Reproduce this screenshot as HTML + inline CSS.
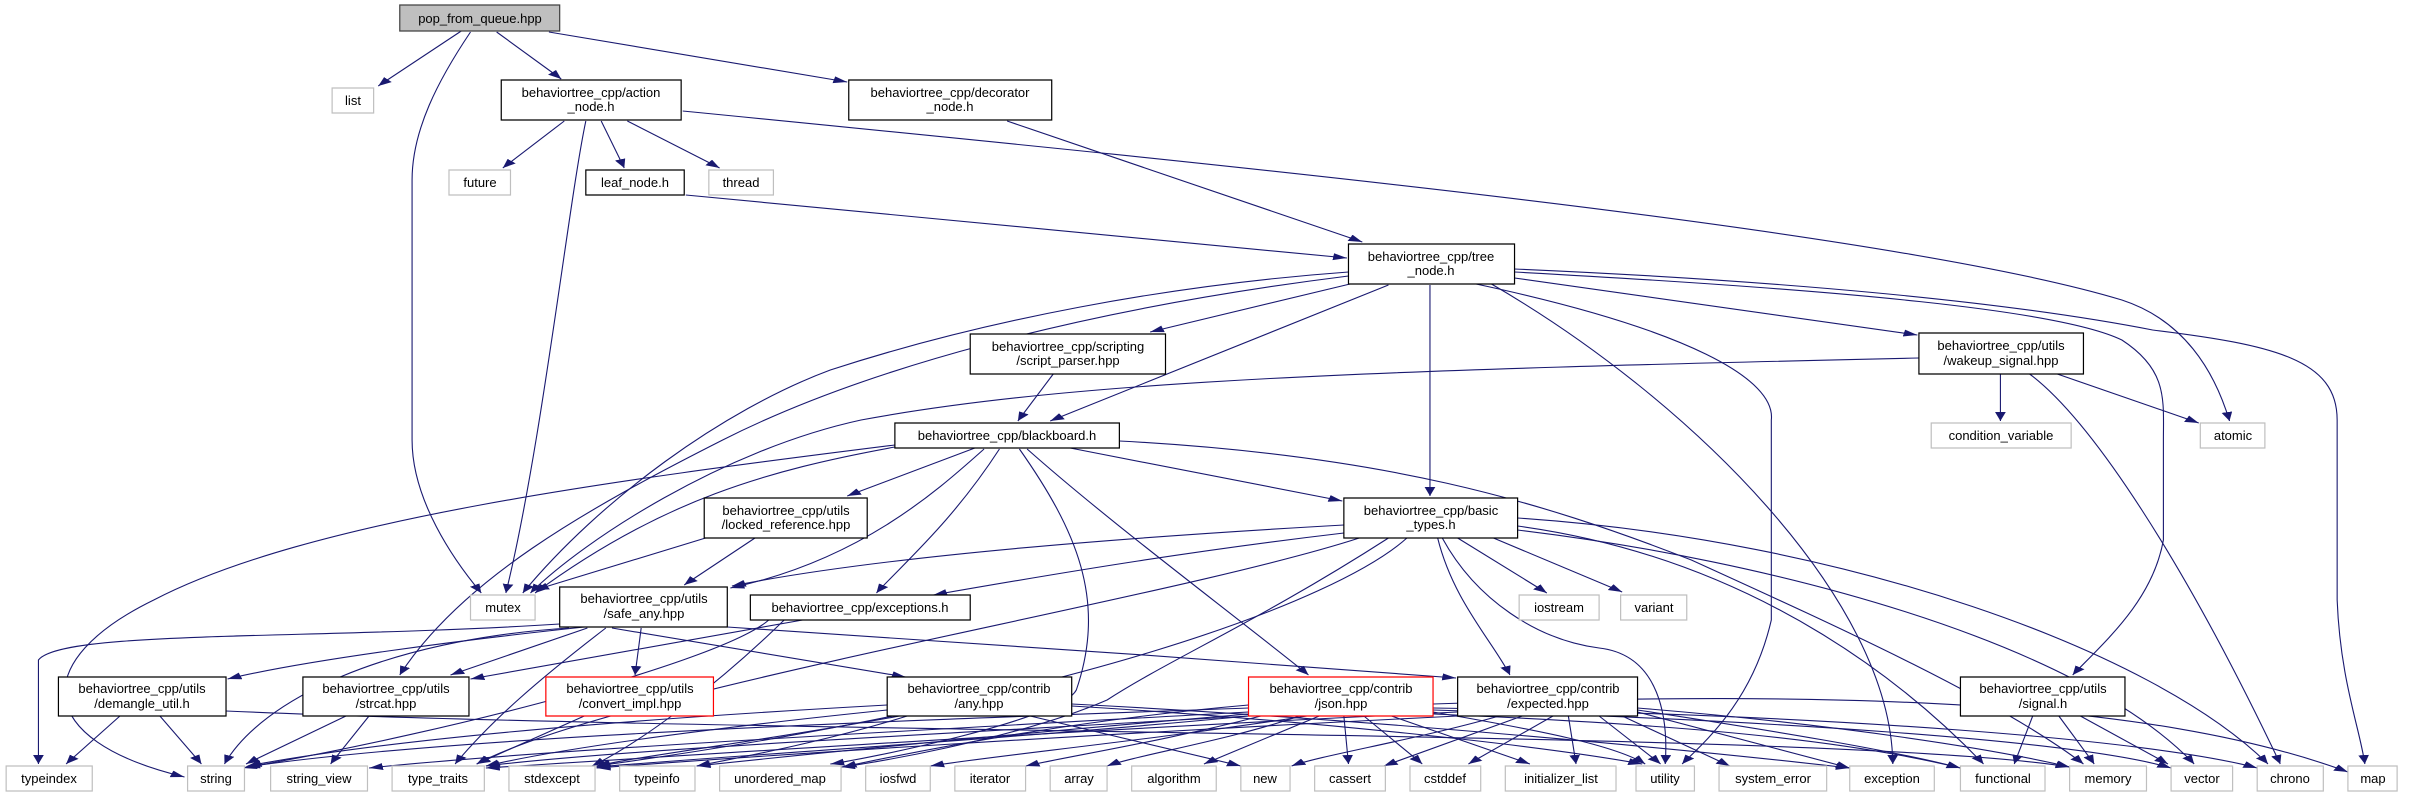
<!DOCTYPE html>
<html><head><meta charset="utf-8"><style>
html,body{margin:0;padding:0;background:#fff;}
svg{display:block;}
text{font-family:"Liberation Sans",sans-serif;font-size:13px;fill:#000;text-anchor:middle;}
</style></head><body>
<svg width="2411" height="797" viewBox="0 0 2411 797" xmlns="http://www.w3.org/2000/svg">
<defs>
<marker id="a" markerUnits="userSpaceOnUse" markerWidth="10" markerHeight="8" refX="9" refY="3.5" orient="auto">
<path d="M0,0 L9,3.5 L0,7 z" fill="#191970"/>
</marker>
</defs>
<g transform="scale(1.5376,1)">
<g fill="none" stroke="#191970" stroke-width="1.1" vector-effect="non-scaling-stroke" marker-end="url(#a)">
<path vector-effect="non-scaling-stroke" d="M300,31 L246,86"/>
<path vector-effect="non-scaling-stroke" d="M306,32 C285,80 268,130 268,180 L268,440 C268,500 295,560 313,593"/>
<path vector-effect="non-scaling-stroke" d="M323,32 L365,79"/>
<path vector-effect="non-scaling-stroke" d="M357,32 L551,82"/>
<path vector-effect="non-scaling-stroke" d="M367,121 L327,168"/>
<path vector-effect="non-scaling-stroke" d="M391,121 L406,168"/>
<path vector-effect="non-scaling-stroke" d="M408,121 L468,168"/>
<path vector-effect="non-scaling-stroke" d="M381,121 C370,200 352,450 329,593"/>
<path vector-effect="non-scaling-stroke" d="M444,111 C800,165 1230,230 1380,300 C1420,320 1440,370 1450,421"/>
<path vector-effect="non-scaling-stroke" d="M655,121 L886,242"/>
<path vector-effect="non-scaling-stroke" d="M446,195 L876,258"/>
<path vector-effect="non-scaling-stroke" d="M878,284 L748,332"/>
<path vector-effect="non-scaling-stroke" d="M903,285 L683,421"/>
<path vector-effect="non-scaling-stroke" d="M685,374 L662,421"/>
<path vector-effect="non-scaling-stroke" d="M930,285 L930,496"/>
<path vector-effect="non-scaling-stroke" d="M877,272 C760,285 640,320 540,370 C470,410 390,500 340,593"/>
<path vector-effect="non-scaling-stroke" d="M877,276 C700,310 560,370 470,440 C380,510 300,580 260,675"/>
<path vector-effect="non-scaling-stroke" d="M985,278 L1247,335"/>
<path vector-effect="non-scaling-stroke" d="M985,272 C1200,290 1340,310 1380,340 C1410,370 1407,400 1407,440 L1407,540 C1400,600 1370,640 1348,675"/>
<path vector-effect="non-scaling-stroke" d="M985,269 C1150,280 1300,300 1400,330 C1480,345 1520,360 1520,420 L1520,600 C1522,680 1535,730 1538,764"/>
<path vector-effect="non-scaling-stroke" d="M970,284 C1100,400 1230,600 1231,764"/>
<path vector-effect="non-scaling-stroke" d="M960,284 C1100,330 1155,380 1152,420 L1152,620 C1140,700 1110,740 1094,764"/>
<path vector-effect="non-scaling-stroke" d="M1301,374 L1301,421"/>
<path vector-effect="non-scaling-stroke" d="M1338,374 L1430,423"/>
<path vector-effect="non-scaling-stroke" d="M1248,358 C900,370 700,380 560,420 C470,450 380,540 345,593"/>
<path vector-effect="non-scaling-stroke" d="M1320,374 C1360,420 1420,560 1483,764"/>
<path vector-effect="non-scaling-stroke" d="M634,448 L551,496"/>
<path vector-effect="non-scaling-stroke" d="M696,448 L873,501"/>
<path vector-effect="non-scaling-stroke" d="M582,447 C500,470 430,500 348,593"/>
<path vector-effect="non-scaling-stroke" d="M582,445 C400,480 200,520 100,600 C20,660 20,740 120,777"/>
<path vector-effect="non-scaling-stroke" d="M640,449 C610,490 560,560 475,588"/>
<path vector-effect="non-scaling-stroke" d="M650,449 C620,520 590,560 570,593"/>
<path vector-effect="non-scaling-stroke" d="M663,449 C700,530 720,600 700,690 C690,720 560,760 540,764"/>
<path vector-effect="non-scaling-stroke" d="M668,449 C720,520 790,600 851,675"/>
<path vector-effect="non-scaling-stroke" d="M728,441 C900,455 1000,500 1100,560 C1200,630 1300,700 1355,764"/>
<path vector-effect="non-scaling-stroke" d="M874,525 C700,540 560,560 476,586"/>
<path vector-effect="non-scaling-stroke" d="M874,533 C780,550 700,570 607,595"/>
<path vector-effect="non-scaling-stroke" d="M884,538 C760,600 400,690 310,764"/>
<path vector-effect="non-scaling-stroke" d="M948,538 L1006,593"/>
<path vector-effect="non-scaling-stroke" d="M962,532 L1055,592"/>
<path vector-effect="non-scaling-stroke" d="M935,538 C945,600 970,640 982,675"/>
<path vector-effect="non-scaling-stroke" d="M987,518 C1200,540 1400,650 1475,764"/>
<path vector-effect="non-scaling-stroke" d="M987,530 C1150,560 1350,640 1427,764"/>
<path vector-effect="non-scaling-stroke" d="M938,538 C960,600 1000,640 1040,648 C1080,655 1085,720 1083,764"/>
<path vector-effect="non-scaling-stroke" d="M903,538 C820,620 760,660 720,700 C660,740 560,765 547,767"/>
<path vector-effect="non-scaling-stroke" d="M915,538 C870,600 700,700 388,766"/>
<path vector-effect="non-scaling-stroke" d="M987,526 C1150,560 1250,700 1290,764"/>
<path vector-effect="non-scaling-stroke" d="M380,627 C300,640 200,660 148,679"/>
<path vector-effect="non-scaling-stroke" d="M382,628 L293,675"/>
<path vector-effect="non-scaling-stroke" d="M417,628 L413,675"/>
<path vector-effect="non-scaling-stroke" d="M364,624 C200,640 40,630 25,660 L25,764"/>
<path vector-effect="non-scaling-stroke" d="M370,628 C250,640 170,700 146,764"/>
<path vector-effect="non-scaling-stroke" d="M394,628 C350,680 320,720 296,764"/>
<path vector-effect="non-scaling-stroke" d="M398,628 L589,677"/>
<path vector-effect="non-scaling-stroke" d="M473,627 C600,640 800,660 947,678"/>
<path vector-effect="non-scaling-stroke" d="M522,620 L306,679"/>
<path vector-effect="non-scaling-stroke" d="M500,620 C470,660 300,730 158,768"/>
<path vector-effect="non-scaling-stroke" d="M510,620 C470,680 420,740 385,766"/>
<path vector-effect="non-scaling-stroke" d="M78,716 L43,764"/>
<path vector-effect="non-scaling-stroke" d="M104,716 L131,764"/>
<path vector-effect="non-scaling-stroke" d="M147,711 C500,735 1200,730 1346,767"/>
<path vector-effect="non-scaling-stroke" d="M225,716 L160,764"/>
<path vector-effect="non-scaling-stroke" d="M240,716 L215,764"/>
<path vector-effect="non-scaling-stroke" d="M380,716 L310,764"/>
<path vector-effect="non-scaling-stroke" d="M670,716 L807,766"/>
<path vector-effect="non-scaling-stroke" d="M577,705 C400,720 250,740 161,766"/>
<path vector-effect="non-scaling-stroke" d="M577,710 C450,730 360,750 316,766"/>
<path vector-effect="non-scaling-stroke" d="M590,716 C540,740 490,755 453,766"/>
<path vector-effect="non-scaling-stroke" d="M585,716 C500,740 420,755 388,766"/>
<path vector-effect="non-scaling-stroke" d="M697,706 C850,720 1000,745 1068,764"/>
<path vector-effect="non-scaling-stroke" d="M697,704 C900,720 1100,750 1203,768"/>
<path vector-effect="non-scaling-stroke" d="M932,704 C1200,690 1400,700 1527,772"/>
<path vector-effect="non-scaling-stroke" d="M850,716 C750,740 650,755 605,766"/>
<path vector-effect="non-scaling-stroke" d="M820,716 C760,740 700,755 667,766"/>
<path vector-effect="non-scaling-stroke" d="M845,716 C800,740 740,755 720,766"/>
<path vector-effect="non-scaling-stroke" d="M858,716 L783,764"/>
<path vector-effect="non-scaling-stroke" d="M874,716 L877,764"/>
<path vector-effect="non-scaling-stroke" d="M887,716 L925,764"/>
<path vector-effect="non-scaling-stroke" d="M905,716 L995,764"/>
<path vector-effect="non-scaling-stroke" d="M932,712 C1000,730 1050,745 1070,764"/>
<path vector-effect="non-scaling-stroke" d="M932,714 C1100,725 1200,740 1275,768"/>
<path vector-effect="non-scaling-stroke" d="M932,710 C1150,720 1350,740 1412,768"/>
<path vector-effect="non-scaling-stroke" d="M932,708 C1200,715 1400,740 1468,768"/>
<path vector-effect="non-scaling-stroke" d="M812,708 C600,720 300,735 160,767"/>
<path vector-effect="non-scaling-stroke" d="M812,712 C600,730 350,750 240,768"/>
<path vector-effect="non-scaling-stroke" d="M812,716 C600,735 400,750 316,766"/>
<path vector-effect="non-scaling-stroke" d="M812,716 C650,740 480,755 388,767"/>
<path vector-effect="non-scaling-stroke" d="M812,705 C700,720 600,750 548,767"/>
<path vector-effect="non-scaling-stroke" d="M812,714 C650,735 520,755 453,766"/>
<path vector-effect="non-scaling-stroke" d="M975,716 C920,740 860,755 840,766"/>
<path vector-effect="non-scaling-stroke" d="M990,716 L900,766"/>
<path vector-effect="non-scaling-stroke" d="M1010,716 L955,764"/>
<path vector-effect="non-scaling-stroke" d="M1020,716 L1025,764"/>
<path vector-effect="non-scaling-stroke" d="M1040,716 L1080,764"/>
<path vector-effect="non-scaling-stroke" d="M1055,716 L1125,766"/>
<path vector-effect="non-scaling-stroke" d="M1065,712 L1203,768"/>
<path vector-effect="non-scaling-stroke" d="M1065,710 C1150,730 1230,750 1275,768"/>
<path vector-effect="non-scaling-stroke" d="M1065,708 C1200,725 1300,750 1346,767"/>
<path vector-effect="non-scaling-stroke" d="M948,712 C700,730 450,755 316,768"/>
<path vector-effect="non-scaling-stroke" d="M948,716 C700,735 500,755 388,768"/>
<path vector-effect="non-scaling-stroke" d="M1322,716 L1310,764"/>
<path vector-effect="non-scaling-stroke" d="M1339,716 L1362,764"/>
<path vector-effect="non-scaling-stroke" d="M1353,716 L1410,764"/>
<path vector-effect="non-scaling-stroke" d="M461,537 L348,590"/>
<path vector-effect="non-scaling-stroke" d="M491,538 L445,585"/>
</g>
<g fill="#fff" stroke-width="1.2">
<rect x="260" y="5" width="104" height="26" fill="#bfbfbf" stroke="#404040" vector-effect="non-scaling-stroke"/>
<g stroke="#000">
<rect x="326" y="80" width="117" height="40" vector-effect="non-scaling-stroke"/>
<rect x="552" y="80" width="132" height="40" vector-effect="non-scaling-stroke"/>
<rect x="381" y="170" width="64" height="25" vector-effect="non-scaling-stroke"/>
<rect x="877" y="244" width="108" height="40" vector-effect="non-scaling-stroke"/>
<rect x="631" y="334" width="127" height="40" vector-effect="non-scaling-stroke"/>
<rect x="1248" y="333" width="107" height="41" vector-effect="non-scaling-stroke"/>
<rect x="582" y="423" width="146" height="25" vector-effect="non-scaling-stroke"/>
<rect x="874" y="498" width="113" height="40" vector-effect="non-scaling-stroke"/>
<rect x="458" y="498" width="106" height="40" vector-effect="non-scaling-stroke"/>
<rect x="488" y="595" width="143" height="25" vector-effect="non-scaling-stroke"/>
<rect x="364" y="587" width="109" height="40" vector-effect="non-scaling-stroke"/>
<rect x="38" y="677" width="109" height="39" vector-effect="non-scaling-stroke"/>
<rect x="197" y="677" width="108" height="39" vector-effect="non-scaling-stroke"/>
<rect x="577" y="677" width="120" height="39" vector-effect="non-scaling-stroke"/>
<rect x="948" y="677" width="117" height="39" vector-effect="non-scaling-stroke"/>
<rect x="1275" y="677" width="107" height="39" vector-effect="non-scaling-stroke"/>
</g>
<g stroke="#ff0000">
<rect x="355" y="677" width="109" height="39" vector-effect="non-scaling-stroke"/>
<rect x="812" y="677" width="120" height="39" vector-effect="non-scaling-stroke"/>
</g>
<g stroke="#bfbfbf">
<rect x="216" y="88" width="27" height="25" vector-effect="non-scaling-stroke"/>
<rect x="292" y="170" width="40" height="25" vector-effect="non-scaling-stroke"/>
<rect x="461" y="170" width="42" height="25" vector-effect="non-scaling-stroke"/>
<rect x="1256" y="423" width="91" height="25" vector-effect="non-scaling-stroke"/>
<rect x="1431" y="423" width="42" height="25" vector-effect="non-scaling-stroke"/>
<rect x="306" y="595" width="42" height="25" vector-effect="non-scaling-stroke"/>
<rect x="988" y="595" width="52" height="25" vector-effect="non-scaling-stroke"/>
<rect x="1054" y="595" width="43" height="25" vector-effect="non-scaling-stroke"/>
<rect x="4" y="766" width="56" height="25" vector-effect="non-scaling-stroke"/>
<rect x="122" y="766" width="37" height="25" vector-effect="non-scaling-stroke"/>
<rect x="176" y="766" width="63" height="25" vector-effect="non-scaling-stroke"/>
<rect x="255" y="766" width="60" height="25" vector-effect="non-scaling-stroke"/>
<rect x="331" y="766" width="56" height="25" vector-effect="non-scaling-stroke"/>
<rect x="403" y="766" width="49" height="25" vector-effect="non-scaling-stroke"/>
<rect x="468" y="766" width="79" height="25" vector-effect="non-scaling-stroke"/>
<rect x="563" y="766" width="42" height="25" vector-effect="non-scaling-stroke"/>
<rect x="621" y="766" width="46" height="25" vector-effect="non-scaling-stroke"/>
<rect x="683" y="766" width="37" height="25" vector-effect="non-scaling-stroke"/>
<rect x="736" y="766" width="55" height="25" vector-effect="non-scaling-stroke"/>
<rect x="807" y="766" width="32" height="25" vector-effect="non-scaling-stroke"/>
<rect x="855" y="766" width="46" height="25" vector-effect="non-scaling-stroke"/>
<rect x="917" y="766" width="46" height="25" vector-effect="non-scaling-stroke"/>
<rect x="979" y="766" width="72" height="25" vector-effect="non-scaling-stroke"/>
<rect x="1064" y="766" width="38" height="25" vector-effect="non-scaling-stroke"/>
<rect x="1118" y="766" width="70" height="25" vector-effect="non-scaling-stroke"/>
<rect x="1203" y="766" width="55" height="25" vector-effect="non-scaling-stroke"/>
<rect x="1275" y="766" width="55" height="25" vector-effect="non-scaling-stroke"/>
<rect x="1346" y="766" width="50" height="25" vector-effect="non-scaling-stroke"/>
<rect x="1412" y="766" width="40" height="25" vector-effect="non-scaling-stroke"/>
<rect x="1468" y="766" width="43" height="25" vector-effect="non-scaling-stroke"/>
<rect x="1527" y="766" width="32" height="25" vector-effect="non-scaling-stroke"/>
</g>
</g>
</g>
<g>
<text x="480" y="23">pop_from_queue.hpp</text>
<text x="353" y="105">list</text>
<text x="591" y="97">behaviortree_cpp/action</text><text x="591" y="111">_node.h</text>
<text x="950" y="97">behaviortree_cpp/decorator</text><text x="950" y="111">_node.h</text>
<text x="480" y="187">future</text>
<text x="635" y="187">leaf_node.h</text>
<text x="741" y="187">thread</text>
<text x="1431" y="261">behaviortree_cpp/tree</text><text x="1431" y="275">_node.h</text>
<text x="1068" y="351">behaviortree_cpp/scripting</text><text x="1068" y="365">/script_parser.hpp</text>
<text x="2001" y="350">behaviortree_cpp/utils</text><text x="2001" y="365">/wakeup_signal.hpp</text>
<text x="2001" y="440">condition_variable</text>
<text x="2233" y="440">atomic</text>
<text x="1007" y="440">behaviortree_cpp/blackboard.h</text>
<text x="1431" y="515">behaviortree_cpp/basic</text><text x="1431" y="529">_types.h</text>
<text x="786" y="515">behaviortree_cpp/utils</text><text x="786" y="529">/locked_reference.hpp</text>
<text x="860" y="612">behaviortree_cpp/exceptions.h</text>
<text x="1559" y="612">iostream</text>
<text x="1654" y="612">variant</text>
<text x="503" y="612">mutex</text>
<text x="644" y="603">behaviortree_cpp/utils</text><text x="644" y="618">/safe_any.hpp</text>
<text x="142" y="693">behaviortree_cpp/utils</text><text x="142" y="708">/demangle_util.h</text>
<text x="386" y="693">behaviortree_cpp/utils</text><text x="386" y="708">/strcat.hpp</text>
<text x="630" y="693">behaviortree_cpp/utils</text><text x="630" y="708">/convert_impl.hpp</text>
<text x="979" y="693">behaviortree_cpp/contrib</text><text x="979" y="708">/any.hpp</text>
<text x="1341" y="693">behaviortree_cpp/contrib</text><text x="1341" y="708">/json.hpp</text>
<text x="1548" y="693">behaviortree_cpp/contrib</text><text x="1548" y="708">/expected.hpp</text>
<text x="2043" y="693">behaviortree_cpp/utils</text><text x="2043" y="708">/signal.h</text>
<text x="49" y="783">typeindex</text>
<text x="216" y="783">string</text>
<text x="319" y="783">string_view</text>
<text x="438" y="783">type_traits</text>
<text x="552" y="783">stdexcept</text>
<text x="657" y="783">typeinfo</text>
<text x="780" y="783">unordered_map</text>
<text x="898" y="783">iosfwd</text>
<text x="990" y="783">iterator</text>
<text x="1079" y="783">array</text>
<text x="1174" y="783">algorithm</text>
<text x="1265" y="783">new</text>
<text x="1350" y="783">cassert</text>
<text x="1445" y="783">cstddef</text>
<text x="1561" y="783">initializer_list</text>
<text x="1665" y="783">utility</text>
<text x="1773" y="783">system_error</text>
<text x="1892" y="783">exception</text>
<text x="2003" y="783">functional</text>
<text x="2108" y="783">memory</text>
<text x="2202" y="783">vector</text>
<text x="2290" y="783">chrono</text>
<text x="2373" y="783">map</text>
</g>
</svg>
</body></html>
